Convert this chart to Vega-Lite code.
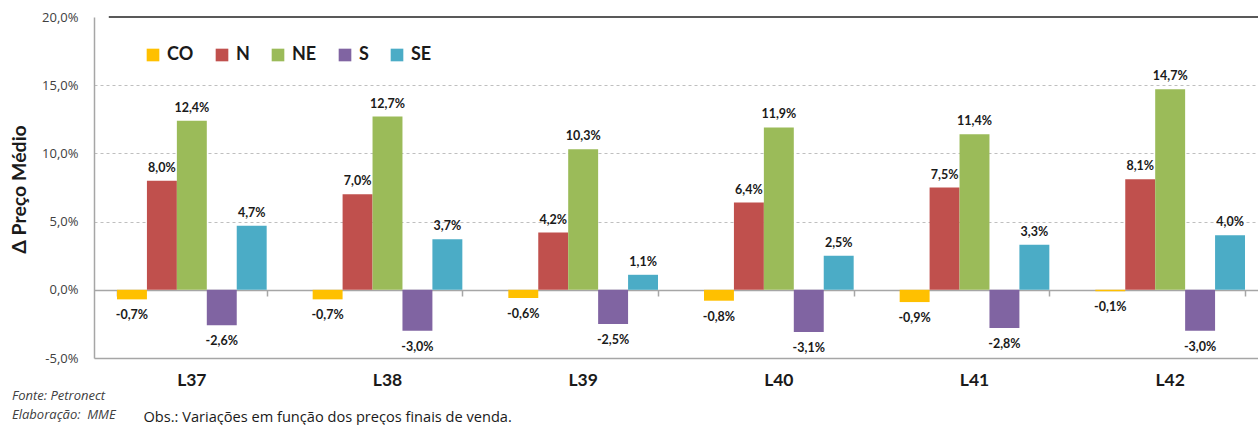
{
  "$schema": "https://vega.github.io/schema/vega-lite/v6.json",
  "autosize": "none",
  "padding": {"left": 94, "top": 17, "right": 0, "bottom": 67},
  "width": 1174,
  "height": 341,
  "background": "white",
  "config": {
    "locale": {"number": {"decimal": ",", "thousands": ".", "grouping": [3], "currency": ["R$", ""], "minus": "-"}},
    "view": {"stroke": null},
    "font": "Lato"
  },
  "title": {
    "text": ["Fonte: Petronect", "Elaboração:\u00a0\u00a0MME"],
    "orient": "bottom",
    "anchor": "start",
    "frame": "group",
    "dx": -82,
    "offset": -34,
    "font": "Open Sans",
    "fontSize": 13,
    "fontStyle": "italic",
    "fontWeight": "normal",
    "color": "#404040",
    "lineHeight": 19
  },
  "data": {
    "values": [
      {"lote": "L37", "reg": "CO", "v": -0.007},
      {"lote": "L37", "reg": "N", "v": 0.080},
      {"lote": "L37", "reg": "NE", "v": 0.124},
      {"lote": "L37", "reg": "S", "v": -0.026},
      {"lote": "L37", "reg": "SE", "v": 0.047},
      {"lote": "L38", "reg": "CO", "v": -0.007},
      {"lote": "L38", "reg": "N", "v": 0.070},
      {"lote": "L38", "reg": "NE", "v": 0.127},
      {"lote": "L38", "reg": "S", "v": -0.030},
      {"lote": "L38", "reg": "SE", "v": 0.037},
      {"lote": "L39", "reg": "CO", "v": -0.006},
      {"lote": "L39", "reg": "N", "v": 0.042},
      {"lote": "L39", "reg": "NE", "v": 0.103},
      {"lote": "L39", "reg": "S", "v": -0.025},
      {"lote": "L39", "reg": "SE", "v": 0.011},
      {"lote": "L40", "reg": "CO", "v": -0.008},
      {"lote": "L40", "reg": "N", "v": 0.064},
      {"lote": "L40", "reg": "NE", "v": 0.119},
      {"lote": "L40", "reg": "S", "v": -0.031},
      {"lote": "L40", "reg": "SE", "v": 0.025},
      {"lote": "L41", "reg": "CO", "v": -0.009},
      {"lote": "L41", "reg": "N", "v": 0.075},
      {"lote": "L41", "reg": "NE", "v": 0.114},
      {"lote": "L41", "reg": "S", "v": -0.028},
      {"lote": "L41", "reg": "SE", "v": 0.033},
      {"lote": "L42", "reg": "CO", "v": -0.001},
      {"lote": "L42", "reg": "N", "v": 0.081},
      {"lote": "L42", "reg": "NE", "v": 0.147},
      {"lote": "L42", "reg": "S", "v": -0.030},
      {"lote": "L42", "reg": "SE", "v": 0.040}
    ]
  },
  "encoding": {
    "x": {
      "field": "lote",
      "type": "nominal",
      "scale": {"paddingInner": 0.235, "paddingOuter": 0.1175},
      "sort": null,
      "axis": null
    },
    "xOffset": {"field": "reg", "type": "nominal", "scale": {"padding": 0}, "sort": ["CO", "N", "NE", "S", "SE"]}
  },
  "layer": [
    {
      "mark": {"type": "bar"},
      "encoding": {
        "x": {
          "field": "lote",
          "type": "nominal",
          "sort": null,
          "axis": {
            "orient": "bottom",
            "title": "Obs.: Variações em função dos preços finais de venda.",
            "titleFont": "Open Sans",
            "titleFontSize": 14.6,
            "titleFontWeight": "normal",
            "titleColor": "#1a1a1a",
            "titleAnchor": "start",
            "titleAlign": "left",
            "titleBaseline": "middle",
            "titleX": 49,
            "titleY": 59,
            "labelAngle": 0,
            "labelFont": "Lato",
            "labelFontSize": 17.5,
            "labelFontWeight": "bold",
            "labelColor": "#1a1a1a",
            "labelPadding": 13,
            "ticks": false,
            "tickSize": 0,
            "domainColor": "#a6a6a6",
            "domainWidth": 1.5
          }
        },
        "y": {
          "field": "v",
          "type": "quantitative",
          "scale": {"domain": [-0.05, 0.2], "nice": false},
          "axis": {
            "values": [-0.05, 0, 0.05, 0.1, 0.15, 0.2],
            "format": ".1%",
            "title": "Δ Preço Médio",
            "titleFont": "Lato",
            "titleFontSize": 19.5,
            "titleFontWeight": "bold",
            "titleColor": "#1a1a1a",
            "titleX": -75,
            "titleY": 172,
            "titleBaseline": "middle",
            "labelFont": "Open Sans",
            "labelFontSize": 13,
            "labelColor": "#404040",
            "labelPadding": 16,
            "ticks": false,
            "tickSize": 0,
            "domainColor": "#a6a6a6",
            "domainWidth": 1.5,
            "grid": true,
            "gridColor": "#bfbfbf",
            "gridDash": [3, 3],
            "gridOpacity": {"condition": {"test": "datum.value <= 0.001 || datum.value >= 0.199", "value": 0}, "value": 1}
          }
        },
        "color": {
          "field": "reg",
          "type": "nominal",
          "sort": ["CO", "N", "NE", "S", "SE"],
          "scale": {"domain": ["CO", "N", "NE", "S", "SE"], "range": ["#FFC000", "#C0504D", "#9BBB59", "#8064A2", "#4BACC6"]},
          "legend": {
            "title": null,
            "orient": "none",
            "direction": "horizontal",
            "legendX": 50,
            "legendY": 29,
            "symbolType": "square",
            "symbolSize": 160,
            "symbolStrokeWidth": 0,
            "symbolOpacity": 1,
            "labelFont": "Lato",
            "labelFontSize": 18,
            "labelFontWeight": "bold",
            "labelColor": "#1a1a1a",
            "labelOffset": 5,
            "columnPadding": 19
          }
        }
      }
    },
    {
      "mark": {"type": "rule", "color": "#595959", "strokeWidth": 2},
      "encoding": {"y": {"datum": 0.2}, "x": {"value": 0}, "x2": {"value": 1174}}
    },
    {
      "mark": {"type": "tick", "opacity": 0},
      "encoding": {
        "x": {
          "field": "lote",
          "type": "nominal",
          "sort": null,
          "axis": {
            "title": null,
            "orient": "bottom",
            "offset": -68,
            "labels": false,
            "ticks": true,
            "tickBand": "extent",
            "tickSize": 6,
            "tickColor": "#a6a6a6",
            "tickWidth": 1.5,
            "domainColor": "#a6a6a6",
            "domainWidth": 1.5,
            "grid": false
          }
        },
        "xOffset": {"value": 0},
        "y": {"datum": 0}
      }
    },
    {
      "transform": [{"filter": "datum.v >= 0"}],
      "mark": {"type": "text", "baseline": "bottom", "dy": -6, "font": "Lato", "fontSize": 12.5, "fontWeight": "bold", "color": "#1a1a1a"},
      "encoding": {
        "y": {"field": "v", "type": "quantitative"},
        "text": {"field": "v", "type": "quantitative", "format": ".1%"}
      }
    },
    {
      "transform": [{"filter": "datum.v < 0"}],
      "mark": {"type": "text", "baseline": "top", "dy": 10, "font": "Lato", "fontSize": 12.5, "fontWeight": "bold", "color": "#1a1a1a"},
      "encoding": {
        "y": {"field": "v", "type": "quantitative"},
        "text": {"field": "v", "type": "quantitative", "format": ".1%"}
      }
    }
  ],
  "resolve": {"axis": {"x": "independent"}}
}
